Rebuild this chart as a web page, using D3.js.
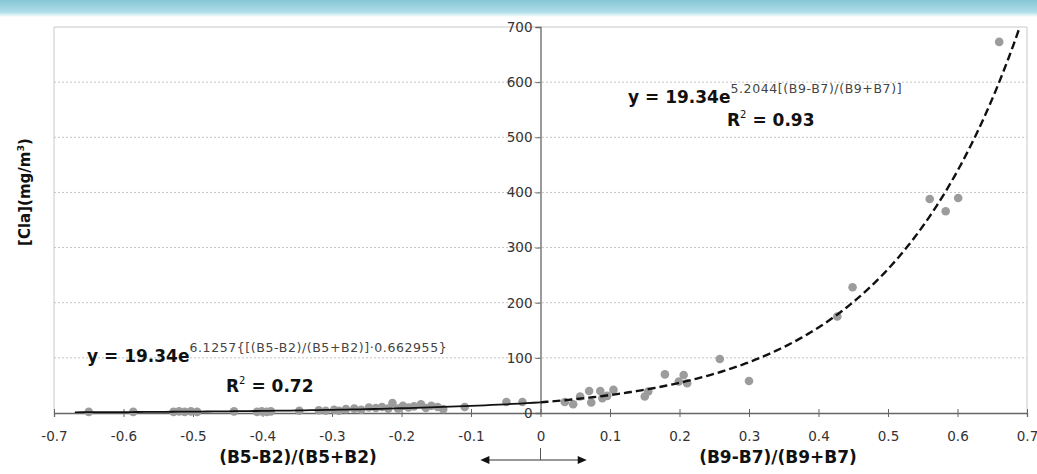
<!DOCTYPE html>
<html>
<head>
<meta charset="utf-8">
<script src="https://cdn.jsdelivr.net/npm/d3@7"></script>
<style>
  body { margin: 0; background: #fff; }
  svg { display: block; font-family: "DejaVu Sans", Verdana, sans-serif; }
</style>
</head>
<body>
<script>
// scatter: (B5-B2)/(B5+B2) side
const leftX = [-0.650, -0.586, -0.528, -0.520, -0.512, -0.503, -0.494, -0.441, -0.408, -0.401, -0.394, -0.388,
  -0.347, -0.319, -0.309, -0.297, -0.290, -0.280, -0.268, -0.258, -0.247, -0.237, -0.228, -0.219,
  -0.213, -0.205, -0.198, -0.190, -0.182, -0.172, -0.165, -0.157, -0.148, -0.140, -0.109, -0.049, -0.026];
const leftY = [2, 2, 2, 3, 2, 3, 2, 3, 2, 3, 2, 3,
  4, 5, 4, 6, 4, 7, 8, 6, 10, 9, 11, 8,
  18, 8, 13, 10, 12, 16, 9, 13, 11, 7, 11, 20, 20];

// scatter: (B9-B7)/(B9+B7) side
const rightX = [0.035, 0.047, 0.057, 0.070, 0.073, 0.086, 0.089, 0.096, 0.105, 0.150, 0.155, 0.179,
  0.199, 0.206, 0.211, 0.258, 0.300, 0.427, 0.449, 0.560, 0.583, 0.601, 0.660];
const rightY = [20, 16, 30, 40, 19, 40, 27, 31, 42, 30, 39, 70,
  57, 69, 54, 98, 58, 175, 228, 388, 366, 390, 673];

// fitted curves, coefficients as printed on the chart
const fitA = 19.34;
const fitRight = 5.2044;
const fitLeft = 6.1257 * 0.662955;

const xTicks = [-0.7, -0.6, -0.5, -0.4, -0.3, -0.2, -0.1, 0, 0.1, 0.2, 0.3, 0.4, 0.5, 0.6, 0.7];
const yTicks = [0, 100, 200, 300, 400, 500, 600, 700];

const width = 1037, height = 474;
const plotL = 54, plotR = 1027, plotT = 27, plotB = 413;

const svg = d3.select("body").append("svg")
    .attr("width", width)
    .attr("height", height)
    .attr("viewBox", [0, 0, width, height]);

// decorative band at the top of the page
const defs = svg.append("defs");
const grad = defs.append("linearGradient")
    .attr("id", "band").attr("x1", 0).attr("x2", 0).attr("y1", 0).attr("y2", 1);
grad.append("stop").attr("offset", "0%").attr("stop-color", "#86c6d6");
grad.append("stop").attr("offset", "70%").attr("stop-color", "#aedde8");
grad.append("stop").attr("offset", "100%").attr("stop-color", "#ffffff");
svg.append("rect").attr("x", 0).attr("y", 0).attr("width", width).attr("height", 17)
    .attr("fill", "url(#band)");

defs.append("clipPath").attr("id", "plot")
  .append("rect").attr("x", plotL).attr("y", plotT).attr("width", plotR - plotL).attr("height", plotB - plotT);

const x = d3.scaleLinear([-0.7, 0.7], [plotL, plotR]);
const y = d3.scaleLinear([0, 700], [plotB, plotT]);

// gridlines
svg.append("g")
    .attr("stroke", "#c4c4c4")
    .attr("stroke-dasharray", "2,2")
  .selectAll("line")
  .data(yTicks.filter(d => d > 0 && d < 700))
  .join("line")
    .attr("x1", plotL).attr("x2", plotR)
    .attr("y1", d => y(d)).attr("y2", d => y(d));

// plot frame
svg.append("path")
    .attr("d", `M${plotL},${plotB}V${plotT}H${plotR}V${plotB}`)
    .attr("fill", "none")
    .attr("stroke", "#c8c8c8");

// x axis
const xAxis = svg.append("g")
    .attr("transform", `translate(0,${plotB})`)
    .call(d3.axisBottom(x).tickValues(xTicks).tickSize(4).tickPadding(14)
      .tickFormat(d => d === 0 ? "0" : d.toFixed(1)));
xAxis.select(".domain").attr("stroke", "#666").attr("stroke-width", 1.3);
xAxis.selectAll(".tick line").attr("y1", -4).attr("stroke", "#666");
xAxis.selectAll(".tick text").attr("font-size", 13.5).attr("fill", "#333")
    .attr("font-family", "DejaVu Sans, Verdana, sans-serif");

// y axis
const yAxis = svg.append("g")
    .attr("transform", `translate(${x(0)},0)`)
    .call(d3.axisLeft(y).tickValues(yTicks).tickSize(5).tickPadding(3));
yAxis.select(".domain").attr("stroke", "#666").attr("stroke-width", 1.3);
yAxis.selectAll(".tick line").attr("stroke", "#666");
yAxis.selectAll(".tick text").attr("font-size", 13.5).attr("fill", "#333")
    .attr("font-family", "DejaVu Sans, Verdana, sans-serif");

// points
const pts = d3.zip(leftX, leftY).concat(d3.zip(rightX, rightY));
svg.append("g")
    .attr("fill", "#9c9c9c")
  .selectAll("circle")
  .data(pts)
  .join("circle")
    .attr("cx", d => x(d[0]))
    .attr("cy", d => y(d[1]))
    .attr("r", 4.3);

// fitted curves
const line = d3.line().x(d => x(d[0])).y(d => y(d[1]));
const curveL = d3.range(-0.67, 0.0001, 0.01).map(v => [v, fitA * Math.exp(fitLeft * v)]);
const curveR = d3.range(0, 0.7, 0.005).map(v => [v, fitA * Math.exp(fitRight * v)]);

svg.append("path")
    .attr("clip-path", "url(#plot)")
    .attr("d", line(curveL))
    .attr("fill", "none")
    .attr("stroke", "#111")
    .attr("stroke-width", 1.8);

svg.append("path")
    .attr("clip-path", "url(#plot)")
    .attr("d", line(curveR))
    .attr("fill", "none")
    .attr("stroke", "#111")
    .attr("stroke-width", 2.4)
    .attr("stroke-dasharray", "8,4");

// equations
function equation(xp, yp, sup) {
  const t = svg.append("text")
      .attr("x", xp).attr("y", yp)
      .attr("font-size", 17).attr("font-weight", "bold").attr("fill", "#111");
  t.append("tspan").text("y = 19.34e");
  t.append("tspan").attr("dy", -10).attr("font-size", 12.5).attr("font-weight", "normal")
      .attr("letter-spacing", 0.6).attr("fill", "#444").text(sup);
}
function rsq(xp, yp, val) {
  const t = svg.append("text")
      .attr("x", xp).attr("y", yp)
      .attr("font-size", 17).attr("font-weight", "bold").attr("fill", "#111");
  t.append("tspan").text("R");
  t.append("tspan").attr("dy", -8).attr("font-size", 10).attr("font-weight", "normal").text("2");
  t.append("tspan").attr("dy", 8).text(" = " + val);
}
equation(628, 103, "5.2044[(B9-B7)/(B9+B7)]");
rsq(727, 126, "0.93");
equation(87, 362, "6.1257{[(B5-B2)/(B5+B2)]·0.662955}");
rsq(226, 392, "0.72");

// axis titles
svg.append("text")
    .attr("transform", "translate(30,192) rotate(-90)")
    .attr("text-anchor", "middle")
    .attr("font-size", 15).attr("font-weight", "bold").attr("fill", "#111")
    .call(t => {
      t.append("tspan").text("[Cla](mg/m");
      t.append("tspan").attr("dy", -6).attr("font-size", 9.5).text("3");
      t.append("tspan").attr("dy", 6).text(")");
    });

svg.append("text")
    .attr("x", 298).attr("y", 463)
    .attr("text-anchor", "middle")
    .attr("font-size", 17).attr("font-weight", "bold").attr("fill", "#111")
    .text("(B5-B2)/(B5+B2)");

svg.append("text")
    .attr("x", 778).attr("y", 463)
    .attr("text-anchor", "middle")
    .attr("font-size", 17).attr("font-weight", "bold").attr("fill", "#111")
    .text("(B9-B7)/(B9+B7)");

// double arrow under the origin
const arrowY = 460;
const aL = x(-0.075), aR = x(0.055);
svg.append("line")
    .attr("x1", aL).attr("x2", aR)
    .attr("y1", arrowY).attr("y2", arrowY)
    .attr("stroke", "#333").attr("stroke-width", 1.2);
svg.append("line")
    .attr("x1", x(0)).attr("x2", x(0))
    .attr("y1", 448).attr("y2", arrowY)
    .attr("stroke", "#555").attr("stroke-width", 1);
svg.append("path")
    .attr("d", `M${aL - 8},${arrowY}l9,-4v8z M${aR + 8},${arrowY}l-9,-4v8z`)
    .attr("fill", "#111");
</script>
</body>
</html>
